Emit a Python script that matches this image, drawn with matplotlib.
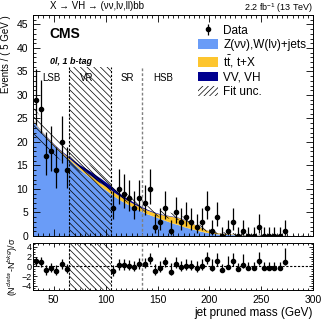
import numpy as np
import matplotlib
matplotlib.use("Agg")
import matplotlib.pyplot as plt
from matplotlib.patches import Patch
from matplotlib.ticker import MultipleLocator

plt.rcParams['font.family'] = ['Liberation Sans', 'DejaVu Sans']
plt.rcParams['hatch.linewidth'] = 0.5
plt.rcParams['mathtext.fontset'] = 'custom'
plt.rcParams['mathtext.rm'] = 'Liberation Sans'

# background model, sampled every 5 GeV from 30 to 300
mass_grid = np.arange(30, 301, 5)
vjets = [24.5, 23.0, 21.7, 20.5, 19.3, 18.2, 17.2, 16.2, 15.2, 14.2, 13.3, 12.4, 11.5, 10.6,
         9.8, 9.0, 8.2, 7.5, 6.9, 6.3, 5.7, 5.2, 4.7, 4.3, 3.9, 3.5, 3.1, 2.7, 2.4, 2.0,
         1.7, 1.4, 1.1, 0.85, 0.65, 0.5, 0.42, 0.36, 0.31, 0.27, 0.24, 0.21, 0.19, 0.17,
         0.15, 0.13, 0.12, 0.1, 0.09, 0.08, 0.07, 0.06, 0.05, 0.05, 0.04]
top = [0.15, 0.15, 0.15, 0.18, 0.2, 0.22, 0.25, 0.3, 0.35, 0.4, 0.5, 0.55, 0.6, 0.7,
       0.75, 0.8, 0.8, 0.8, 0.8, 0.8, 0.8, 0.8, 0.8, 0.8, 0.85, 1.0, 1.2, 1.4, 1.5, 1.5,
       1.35, 1.1, 0.85, 0.6, 0.4, 0.28, 0.2, 0.15, 0.12, 0.1, 0.08, 0.07, 0.06, 0.05,
       0.05, 0.04, 0.04, 0.03, 0.03, 0.03, 0.02, 0.02, 0.02, 0.02, 0.01]
diboson = [0.05, 0.06, 0.08, 0.1, 0.12, 0.15, 0.2, 0.3, 0.4, 0.55, 0.7, 0.85, 0.95, 1.0,
           0.95, 0.85, 0.7, 0.55, 0.45, 0.35, 0.28, 0.22, 0.18, 0.15, 0.12, 0.1, 0.1, 0.09,
           0.08, 0.07, 0.06, 0.05, 0.05, 0.04, 0.04, 0.03, 0.03, 0.03, 0.03, 0.02, 0.02,
           0.02, 0.02, 0.02, 0.02, 0.02, 0.01, 0.01, 0.01, 0.01, 0.01, 0.01, 0.01, 0.01, 0.01]
fit_unc = [3.0, 2.85, 2.7, 2.55, 2.4, 2.2, 2.0, 1.8, 1.65, 1.5, 1.4, 1.3, 1.2, 1.1, 1.05,
           1.0, 0.95, 0.9, 0.88, 0.85, 0.82, 0.8, 0.78, 0.75, 0.72, 0.7, 0.67, 0.64, 0.6,
           0.56, 0.52, 0.48, 0.44, 0.4, 0.36, 0.32, 0.28, 0.25, 0.22, 0.2, 0.18, 0.16, 0.14,
           0.13, 0.12, 0.11, 0.1, 0.09, 0.08, 0.07, 0.06, 0.06, 0.05, 0.05, 0.04]

# data (VR 65-105 blinded)
data_x = [32.5, 37.5, 42.5, 47.5, 52.5, 57.5, 62.5,
          107.5, 112.5, 117.5, 122.5, 127.5, 132.5, 137.5, 142.5, 147.5, 152.5, 157.5,
          162.5, 167.5, 172.5, 177.5, 182.5, 187.5, 192.5, 197.5, 202.5, 207.5, 212.5,
          217.5, 222.5, 227.5, 232.5, 237.5, 242.5, 247.5, 252.5, 257.5, 262.5, 267.5, 272.5]
data_n = [29, 27, 17, 18, 14, 20, 14,
          6, 10, 9, 8, 6, 8, 7, 10, 2, 3, 6,
          1, 5, 3, 4, 3, 2, 3, 6, 1, 4, 0,
          1, 3, 0, 1, 0, 0, 2, 0, 0, 0, 0, 1]
pull = [1.0, 0.9, -0.8, -0.35, -0.9, 0.5, -0.55,
        -1.0, 0.35, 0.35, 0.15, -0.15, 0.55, 0.5, 1.45, -1.0, -0.35, 0.8,
        -1.2, 0.55, -0.2, 0.15, 0.0, -0.35, 0.15, 1.5, -0.3, 1.1, -0.8,
        -0.1, 1.0, -0.45, 0.2, -0.35, -0.35, 1.0, -0.3, -0.3, -0.3, -0.3, 0.8]
pull_up = [1.0, 1.0, 1.1, 1.1, 1.1, 1.0, 1.1,
           1.2, 1.1, 1.1, 1.1, 1.2, 1.1, 1.2, 1.2, 1.5, 1.4, 1.2,
           1.8, 1.3, 1.4, 1.3, 1.4, 1.5, 1.4, 1.5, 1.9, 1.7, 1.2,
           2.2, 1.8, 1.2, 2.4, 1.2, 1.2, 2.0, 1.2, 1.2, 1.2, 1.2, 3.0]
pull_dn = [1.0, 1.0, 0.9, 0.9, 0.9, 1.0, 0.9,
           0.9, 1.0, 1.0, 1.0, 0.9, 1.0, 0.9, 1.0, 0.8, 0.8, 0.9,
           0.6, 0.9, 0.8, 0.9, 0.8, 0.8, 0.8, 1.0, 0.6, 1.0, 0.0,
           0.5, 0.9, 0.0, 0.5, 0.0, 0.0, 0.8, 0.0, 0.0, 0.0, 0.0, 0.6]

n = np.array(data_n, dtype=float)
err_hi = 1 + np.sqrt(n + 0.75)
err_lo = np.where(n > 0, np.sqrt(np.clip(n - 0.25, 0, None)), 0)

c_vjets = "#6a9cf7"
c_top = "#fdc52e"
c_vv = "#00008f"

fig = plt.figure(figsize=(3.32, 3.22), dpi=100)
ax = fig.add_axes([0.0994, 0.2671, 0.8443, 0.6863])
rax = fig.add_axes([0.0994, 0.1003, 0.8443, 0.145])

s1 = np.array(vjets)
s2 = s1 + np.array(top)
s3 = s2 + np.array(diboson)
unc = np.array(fit_unc)

ax.fill_between(mass_grid, 0, s1, color=c_vjets, lw=0)
ax.fill_between(mass_grid, s1, s2, color=c_top, lw=0)
ax.fill_between(mass_grid, s2, s3, color=c_vv, lw=0)
ax.fill_between(mass_grid, np.clip(s3 - unc, 0, None), s3 + unc, facecolor="none",
                edgecolor="black", hatch="\\\\\\\\", lw=0)

# blinded region and region boundaries
ax.fill_between([65, 105], 0, 36, facecolor="none", edgecolor="black", hatch="\\\\\\\\\\", lw=0)
ax.plot([65, 65], [0, 36], color="black", ls=(0, (2, 1.5)), lw=0.8)
ax.plot([105, 105], [0, 36], color="black", ls=(0, (2, 1.5)), lw=0.8)
ax.plot([135, 135], [0, 36], color="gray", ls=(0, (2, 1.5)), lw=1.0)
for lab, xm in [("LSB", 48), ("VR", 82), ("SR", 121), ("HSB", 155)]:
    ax.text(xm, 33.6, lab, ha="center", va="center", fontsize=7)

eb = ax.errorbar(data_x, data_n, yerr=[err_lo, err_hi], fmt="o", color="black",
                 ms=3, lw=0.9, capsize=0, zorder=5)

ax.set_xlim(30, 300)
ax.set_ylim(0, 47)
ax.set_ylabel("Events / ( 5 GeV )", fontsize=7, loc="top")
ax.tick_params(labelbottom=False)

ax.text(0.06, 0.914, "CMS", transform=ax.transAxes, fontsize=10, fontweight="bold",
        va="center")
ax.text(0.06, 0.79, "0l, 1 b-tag", transform=ax.transAxes, fontsize=6.5,
        fontweight="bold", style="italic", va="center")
ax.text(0.06, 1.02, "X → VH → (νν,lν,ll)bb", transform=ax.transAxes, fontsize=7,
        va="bottom")
ax.set_title("2.2 fb$^{-1}$ (13 TeV)", loc="right", fontsize=6.5, pad=2)

handles = [eb, Patch(facecolor=c_vjets), Patch(facecolor=c_top), Patch(facecolor=c_vv),
           Patch(facecolor="white", edgecolor="black", hatch="//////", lw=0)]
labels = ["Data", "Z(νν),W(lν)+jets", r"t$\bar{\rm t}$, t+X", "VV, VH", "Fit unc."]
ax.legend(handles, labels, loc="upper left", bbox_to_anchor=(0.59, 0.955), frameon=False,
          fontsize=8.5, handlelength=1.7, handleheight=0.9, labelspacing=0.18,
          handletextpad=0.4, borderaxespad=0, borderpad=0)

# pull panel
rax.fill_between([65, 105], -5, 5, facecolor="none", edgecolor="black", hatch="\\\\\\\\\\", lw=0)
rax.axvline(65, color="black", ls=(0, (2, 1.5)), lw=0.8)
rax.axvline(105, color="black", ls=(0, (2, 1.5)), lw=0.8)
rax.axvline(135, color="gray", ls=(0, (2, 1.5)), lw=1.0)
rax.axhline(0, color="black", ls=(0, (2, 1.5)), lw=0.8)
rax.errorbar(data_x, pull, yerr=[pull_dn, pull_up], fmt="o", color="black",
             ms=3, lw=0.9, capsize=0, zorder=5)
rax.set_xlim(30, 300)
rax.set_ylim(-4.8, 4.8)
rax.set_yticks([-4, -2, 0, 2, 4])
rax.set_ylabel("(N$^{data}$-N$^{bkg}$)/σ", fontsize=6.5, labelpad=1)
rax.set_xlabel("jet pruned mass (GeV)", fontsize=8.5, loc="right", labelpad=2)

for a in (ax, rax):
    a.xaxis.set_major_locator(MultipleLocator(50))
    a.xaxis.set_minor_locator(MultipleLocator(5))
    a.tick_params(which="both", direction="in", top=True, right=True, labelsize=7.5, width=0.6)
    a.tick_params(which="major", length=5)
    a.tick_params(which="minor", length=2.5)
    for sp in a.spines.values():
        sp.set_linewidth(0.7)
ax.yaxis.set_major_locator(MultipleLocator(5))
ax.yaxis.set_minor_locator(MultipleLocator(1))
rax.yaxis.set_minor_locator(MultipleLocator(0.5))
rax.tick_params(which="major", length=3)
rax.tick_params(which="minor", length=1.5)
rax.tick_params(axis="y", labelsize=6.5, pad=1)

fig.savefig("out.png", dpi=100)
